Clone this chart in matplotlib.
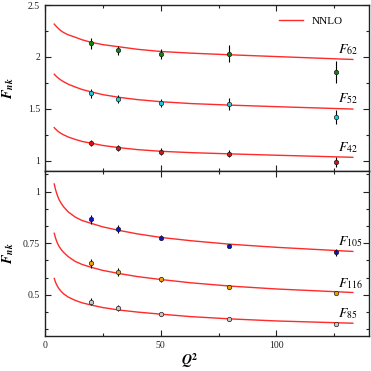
import matplotlib
matplotlib.use("Agg")
import matplotlib.pyplot as plt
from matplotlib.ticker import MultipleLocator, AutoMinorLocator

plt.rcParams['font.family'] = ['Liberation Serif', 'DejaVu Serif']
plt.rcParams['mathtext.fontset'] = 'stix'

# measured points (Q^2)
q2_pts = [20.0, 31.6, 50.1, 79.4, 125.9]

f62 = [2.129, 2.064, 2.025, 2.032, 1.855]
f62_err = [0.05, 0.045, 0.05, 0.08, 0.11]
f52 = [1.647, 1.595, 1.556, 1.546, 1.421]
f52_err = [0.04, 0.035, 0.04, 0.055, 0.068]
f42 = [1.167, 1.125, 1.087, 1.068, 0.987]
f42_err = [0.03, 0.03, 0.03, 0.035, 0.045]

f105 = [0.865, 0.818, 0.777, 0.737, 0.705]
f105_err = [0.024, 0.018, 0.012, 0.01, 0.015]
f116 = [0.652, 0.609, 0.574, 0.537, 0.510]
f116_err = [0.021, 0.02, 0.01, 0.008, 0.008]
f85 = [0.467, 0.435, 0.405, 0.381, 0.359]
f85_err = [0.018, 0.015, 0.006, 0.006, 0.006]

# NNLO curves
q2_curve = [4, 4.5, 5, 5.5, 6, 7, 8, 10, 13, 16, 20, 25, 32, 40, 50, 63, 80, 100, 133]
nnlo62 = [2.316, 2.303, 2.291, 2.28, 2.269, 2.25, 2.235, 2.213, 2.19, 2.165, 2.14, 2.118,
          2.097, 2.073, 2.052, 2.036, 2.02, 2.003, 1.975]
nnlo52 = [1.833, 1.821, 1.81, 1.8, 1.791, 1.775, 1.761, 1.737, 1.71, 1.686, 1.662, 1.636,
          1.61, 1.588, 1.568, 1.55, 1.535, 1.52, 1.497]
nnlo42 = [1.318, 1.306, 1.295, 1.285, 1.276, 1.261, 1.249, 1.228, 1.205, 1.185, 1.168,
          1.146, 1.125, 1.106, 1.09, 1.077, 1.065, 1.052, 1.032]
nnlo105 = [1.037, 1.012, 0.993, 0.977, 0.963, 0.943, 0.927, 0.902, 0.877, 0.86, 0.846,
           0.829, 0.812, 0.795, 0.778, 0.762, 0.745, 0.73, 0.71]
nnlo116 = [0.798, 0.777, 0.76, 0.747, 0.736, 0.719, 0.706, 0.685, 0.662, 0.647, 0.633,
           0.618, 0.603, 0.588, 0.574, 0.558, 0.542, 0.528, 0.511]
nnlo85 = [0.579, 0.562, 0.549, 0.539, 0.53, 0.516, 0.505, 0.489, 0.473, 0.461, 0.45,
          0.438, 0.426, 0.416, 0.406, 0.394, 0.383, 0.373, 0.362]

fig = plt.figure(figsize=(3.71, 3.71), dpi=100)
ax1 = fig.add_axes([0.1213, 0.5391, 0.8733, 0.4474])
ax2 = fig.add_axes([0.1213, 0.0943, 0.8733, 0.4448])

red = '#ff2a2a'

def draw(ax, y, err, curve, col):
    ax.plot(q2_curve, curve, color=red, lw=1.0, zorder=1)
    ax.errorbar(q2_pts, y, yerr=err, fmt='o', ms=3.2, mfc=col, mec='#202020', mew=0.5,
                ecolor='black', elinewidth=0.8, capsize=0, zorder=3)

draw(ax1, f62, f62_err, nnlo62, '#0a8a0a')
draw(ax1, f52, f52_err, nnlo52, '#22c8d8')
draw(ax1, f42, f42_err, nnlo42, '#dd1111')
draw(ax2, f105, f105_err, nnlo105, '#1010cc')
draw(ax2, f116, f116_err, nnlo116, '#f0a000')
draw(ax2, f85, f85_err, nnlo85, '#c8c8c8')

lab_kw = dict(fontsize=10, ha='left', va='center')
ax1.text(126.5, 2.07, r'$\mathit{F}_{\mathit{62}}$', **lab_kw)
ax1.text(126.5, 1.595, r'$\mathit{F}_{\mathit{52}}$', **lab_kw)
ax1.text(126.5, 1.13, r'$\mathit{F}_{\mathit{42}}$', **lab_kw)
ax2.text(126.5, 0.757, r'$\mathit{F}_{\mathit{105}}$', **lab_kw)
ax2.text(126.5, 0.552, r'$\mathit{F}_{\mathit{116}}$', **lab_kw)
ax2.text(126.5, 0.408, r'$\mathit{F}_{\mathit{85}}$', **lab_kw)

ax1.plot([], [], color=red, lw=1.0, label='NNLO')
ax1.legend(loc='center right', bbox_to_anchor=(0.92, 0.905), frameon=False,
           fontsize=8, handlelength=2.2, borderpad=0, borderaxespad=0)

for ax in (ax1, ax2):
    ax.set_xlim(0, 140)
    ax.xaxis.set_major_locator(MultipleLocator(50))
    ax.xaxis.set_minor_locator(MultipleLocator(25))
    ax.tick_params(which='both', direction='in', top=True, right=True, labelsize=7,
                   width=0.8, colors='#222222')
    ax.tick_params(which='major', length=4)
    ax.tick_params(which='minor', length=2.5)
    for s in ax.spines.values():
        s.set_linewidth(1.0)
        s.set_color('#222222')
    ax.set_ylabel(r'$\mathbfit{F}_{\mathbfit{nk}}$', fontsize=10)
    ax.yaxis.set_label_coords(-0.09, 0.5)

ax1.set_ylim(0.9, 2.5)
ax1.yaxis.set_minor_locator(AutoMinorLocator(2))
ax1.set_yticks([1, 1.5, 2, 2.5], ['1', '1.5', '2', '2.5'])
ax1.tick_params(labelbottom=False)

ax2.set_ylim(0.3, 1.1)
ax2.set_yticks([0.5, 0.75, 1.0], ['0.5', '0.75', '1'])
ax2.yaxis.set_minor_locator(AutoMinorLocator(3))
ax2.set_xticks([0, 50, 100], ['0', '50', '100'])
ax2.set_xlabel(r'$\mathbfit{Q}^{\mathbf{2}}$', fontsize=10)
ax2.xaxis.set_label_coords(0.447, -0.095)

fig.savefig('out.png', dpi=100)
